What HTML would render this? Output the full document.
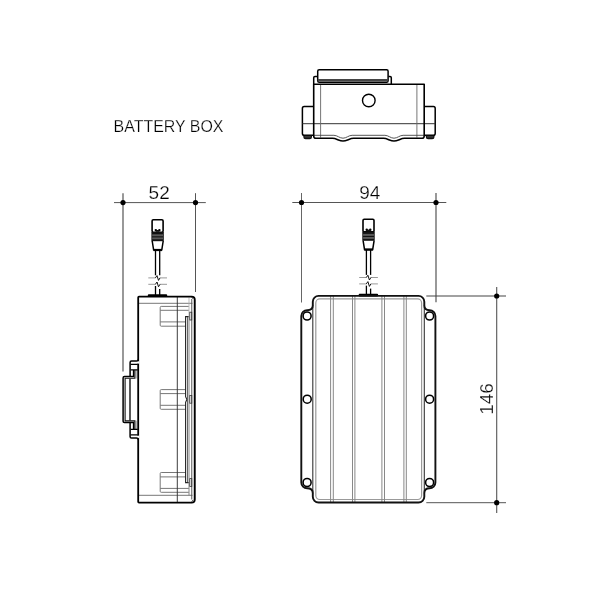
<!DOCTYPE html>
<html><head><meta charset="utf-8"><style>
html,body{margin:0;padding:0;background:#fff;width:600px;height:600px;overflow:hidden}
svg{display:block;will-change:transform}
text{font-family:"Liberation Sans",sans-serif;fill:#000;stroke:#fff;stroke-width:0.25px}
</style></head><body>
<svg width="600" height="600" viewBox="0 0 600 600">


<!-- ===== TITLE ===== -->
<text x="113.6" y="131.7" font-size="15.95">BATTERY BOX</text>

<!-- ===== TOP VIEW ===== -->
<g fill="none" stroke-linejoin="round">
  <!-- side tabs -->
  <path d="M313.6,106.6 H304.2 Q302.4,106.6 302.4,108.4 V133.4 Q302.4,135.2 304.2,135.2 H313.6" stroke="#000" stroke-width="1.5"/>
  <path d="M424.2,106.6 H433.4 Q435.2,106.6 435.2,108.4 V133.4 Q435.2,135.2 433.4,135.2 H424.2" stroke="#000" stroke-width="1.5"/>
  <!-- feet -->
  <path d="M303.3,135.6 H312 V137 Q312,139.3 309.7,139.3 H305.6 Q303.3,139.3 303.3,137 Z" fill="#111" stroke="none"/><line x1="304.5" y1="136.9" x2="310.8" y2="136.9" stroke="#666" stroke-width="0.8"/>
  <path d="M425.8,135.6 H434.5 V137 Q434.5,139.3 432.2,139.3 H428.1 Q425.8,139.3 425.8,137 Z" fill="#111" stroke="none"/><line x1="427" y1="136.9" x2="433.3" y2="136.9" stroke="#666" stroke-width="0.8"/>
  <!-- horizontal mid line -->
  <line x1="302.4" y1="123.7" x2="435.2" y2="123.7" stroke="#333" stroke-width="1"/>
  <!-- inner verticals -->
  <line x1="320.6" y1="84.2" x2="320.6" y2="137.6" stroke="#666" stroke-width="0.9"/>
  <line x1="416.9" y1="84.2" x2="416.9" y2="137.6" stroke="#666" stroke-width="0.9"/>
  <!-- inner bottom line w/ waves -->
  <path d="M313.6,135.3 H333.9 C337.2,135.3 339.7,138.2 343.0,138.2 C346.3,138.2 348.8,135.3 352.1,135.3 H384.9 C388.2,135.3 390.7,138.2 394.0,138.2 C397.3,138.2 399.8,135.3 403.1,135.3 H424.2" stroke="#444" stroke-width="0.9"/>
  <!-- body outline -->
  <path d="M313.7,84.3 V77.8 Q313.7,76.5 315,76.5 H317.5" stroke="#000" stroke-width="1.5"/>
  <path d="M388.4,76.5 H390 Q391.3,76.5 391.3,77.8 V84.3" stroke="#000" stroke-width="1.5"/>
  <path d="M313.7,84.3 H424.2 V136 Q424.2,138.3 422,138.3 H404.5 C400.7,138.3 397.8,141 394.0,141 C390.2,141 387.3,138.3 383.5,138.3 H353.5 C349.7,138.3 346.8,141 343.0,141 C339.2,141 336.3,138.3 332.5,138.3 H316 Q313.7,138.3 313.7,136 Z" stroke="#000" stroke-width="1.6"/>
  <!-- cap -->
  <rect x="317.7" y="69.8" width="70.4" height="12.4" rx="1.5" stroke="#000" stroke-width="1.5"/>
  <rect x="317.7" y="79" width="70.4" height="2.4" fill="#444" stroke="none"/>
  <!-- circle -->
  <circle cx="368.8" cy="100.5" r="6.3" stroke="#000" stroke-width="1.4"/>
</g>

<!-- ===== SIDE VIEW ===== -->
<g>
  <!-- head -->
  <rect x="152.1" y="219.7" width="11" height="12.6" rx="1.2" fill="none" stroke="#000" stroke-width="1.6"/>
  <path d="M154.6,231.3 V230.4 A1.3,1.3 0 0 1 157.2,230.4 A1.3,1.3 0 0 1 159.8,230.4 A1.3,1.3 0 0 1 162.4,230.4" fill="none" stroke="none"/>
  <circle cx="155.8" cy="230.1" r="1.2" fill="#000"/>
  <circle cx="159.4" cy="230.1" r="1.2" fill="#000"/>
  <rect x="155.8" y="230" width="3.6" height="1.8" fill="#111"/>
  <!-- ribs -->
  <rect x="151.4" y="232" width="12.4" height="9.2" fill="#111"/>
  <rect x="152.2" y="234.3" width="10.8" height="2" fill="#5a5a5a"/>
  <rect x="152.2" y="237.4" width="10.8" height="1.9" fill="#5a5a5a"/>
  <!-- taper -->
  <path d="M152.2,241 L153.6,249.8 H161.8 L163.2,241" fill="none" stroke="#000" stroke-width="1.5"/>
  <rect x="153.4" y="248.9" width="8.6" height="2.2" fill="#000"/>
  <!-- cable -->
  <line x1="155.5" y1="250" x2="155.5" y2="275.3" stroke="#000" stroke-width="1.3"/>
  <line x1="159.7" y1="250" x2="159.7" y2="275.3" stroke="#000" stroke-width="1.3"/>
  <!-- breaks -->
  <path d="M148.3,277.9 H155.6 M159.8,277.9 H167" stroke="#999" stroke-width="1" fill="none"/>
  <path d="M155.4,277.9 L157,275.6 L158.5,280.4 L160,277.9" stroke="#111" stroke-width="1" fill="none"/>
  <path d="M148.3,284.3 H155.6 M159.8,284.3 H167" stroke="#999" stroke-width="1" fill="none"/>
  <path d="M155.4,284.3 L157,282 L158.5,286.8 L160,284.3" stroke="#111" stroke-width="1" fill="none"/>
  <line x1="155.5" y1="286" x2="155.5" y2="295" stroke="#000" stroke-width="1.3"/>
  <line x1="159.7" y1="289" x2="159.7" y2="295" stroke="#000" stroke-width="1.3"/>
  <!-- plate -->
  <rect x="147.8" y="294.2" width="19.4" height="2.6" rx="1" fill="#000"/>
</g>
<g fill="none">
  <!-- dimension 52 -->
  <line x1="114" y1="202.6" x2="205.8" y2="202.6" stroke="#555" stroke-width="1"/>
  <line x1="123" y1="193.2" x2="123" y2="371.5" stroke="#444" stroke-width="1.1"/>
  <line x1="195.5" y1="193.2" x2="195.5" y2="292" stroke="#555" stroke-width="1"/>
  <circle cx="123" cy="202.6" r="2.6" fill="#000"/>
  <circle cx="195.5" cy="202.6" r="2.6" fill="#000"/>

  <!-- inner rects -->
  <g stroke="#777" stroke-width="1">
    <path d="M188.8,306.4 H161.2 Q160.2,306.4 160.2,307.4 V325.2 Q160.2,326.2 161.2,326.2 H185.8"/>
    <path d="M160.2,310.3 H188.8 M160.2,321.9 H185.8"/>
    <path d="M185.8,389.6 H161.2 Q160.2,389.6 160.2,390.6 V408.3 Q160.2,409.3 161.2,409.3 H185.8"/>
    <path d="M160.2,393.6 H185.8 M160.2,405.3 H185.8"/>
    <path d="M185.8,472.5 H161.2 Q160.2,472.5 160.2,473.5 V491.3 Q160.2,492.3 161.2,492.3 H188.8"/>
    <path d="M160.2,476.9 H185.8 M160.2,488.4 H188.8"/>
  </g>
  <!-- horizontal thin lines -->
  <line x1="138.2" y1="303.3" x2="192.6" y2="303.3" stroke="#777" stroke-width="1"/>
  <line x1="138.2" y1="495.3" x2="192.6" y2="495.3" stroke="#777" stroke-width="1"/>
  <!-- vertical line -->
  <line x1="177.3" y1="296.4" x2="177.3" y2="502.6" stroke="#333" stroke-width="0.95"/>
  <!-- rail -->
  <path d="M188.8,316.6 H185.6 V396.6 L186.9,399.5 L185.6,402.4 V482.6 H188.8" stroke="#222" stroke-width="1.1"/>
  <line x1="187.5" y1="317" x2="187.5" y2="482.2" stroke="#555" stroke-width="0.9"/>
  <line x1="189" y1="297.5" x2="189" y2="316.6" stroke="#aaa" stroke-width="0.8"/>
  <line x1="189" y1="316.6" x2="189" y2="495.3" stroke="#777" stroke-width="0.9"/>
  <line x1="191.7" y1="299" x2="191.7" y2="499.5" stroke="#555" stroke-width="0.9"/>
  <line x1="193.1" y1="299.5" x2="193.1" y2="499.5" stroke="#aaa" stroke-width="0.7"/>
  <path d="M191.6,297.2 L193.2,299 M191.6,501.6 L193.2,499.8" stroke="#333" stroke-width="0.8"/>
  <g stroke="#333" stroke-width="0.8">
    <rect x="189.8" y="312.2" width="2" height="7.8"/>
    <rect x="189.8" y="395.4" width="2" height="7.8"/>
    <rect x="189.8" y="478.6" width="2" height="7.8"/>
  </g>
  <!-- outer box -->
  <path d="M138.2,297.4 Q138.2,296.6 139,296.6 H191.6 Q194.8,296.6 194.8,299.8 V499.4 Q194.8,502.6 191.6,502.6 H139 Q138.2,502.6 138.2,501.8 Z" stroke="#000" stroke-width="1.8"/>
  <!-- clip -->
  <path d="M136.3,370 V378.5 M136.3,420.7 V429.2" stroke="#999" stroke-width="0.8"/>
  <rect x="136.9" y="361.2" width="2.3" height="2.4" fill="#fff" stroke="none"/><rect x="136.9" y="435.7" width="2.3" height="2.4" fill="#fff" stroke="none"/>
  <path d="M138.2,359.4 Q138.2,361.1 136.5,361.1 H131.5 Q130.1,361.1 130.1,362.5 V376.6 M133.6,370 V376.6 H124.5 Q123.1,376.6 123.1,378 V421.2 Q123.1,422.6 124.5,422.6 H133.6 V429.2 M130.1,422.6 V436.7 Q130.1,438.1 131.5,438.1 H136.5 Q138.2,438.1 138.2,439.8" stroke="#000" stroke-width="1.5"/>
  <path d="M130.6,364.4 H137.8 M130.6,369.9 H137.8 M130.6,429.3 H137.8 M130.6,434.8 H137.8" stroke="#000" stroke-width="1.2"/>
  <path d="M134.9,370 V378.3 H125.1 V420.9 H134.9 V429.2" stroke="#111" stroke-width="1.1"/>
  <line x1="130" y1="378.8" x2="130" y2="420.4" stroke="#111" stroke-width="1.4"/>
</g>

<!-- ===== FRONT VIEW ===== -->
<g transform="translate(210.9,-0.4)">
  <!-- head -->
  <rect x="152.1" y="219.7" width="11" height="12.6" rx="1.2" fill="none" stroke="#000" stroke-width="1.6"/>
  <path d="M154.6,231.3 V230.4 A1.3,1.3 0 0 1 157.2,230.4 A1.3,1.3 0 0 1 159.8,230.4 A1.3,1.3 0 0 1 162.4,230.4" fill="none" stroke="none"/>
  <circle cx="155.8" cy="230.1" r="1.2" fill="#000"/>
  <circle cx="159.4" cy="230.1" r="1.2" fill="#000"/>
  <rect x="155.8" y="230" width="3.6" height="1.8" fill="#111"/>
  <!-- ribs -->
  <rect x="151.4" y="232" width="12.4" height="9.2" fill="#111"/>
  <rect x="152.2" y="234.3" width="10.8" height="2" fill="#5a5a5a"/>
  <rect x="152.2" y="237.4" width="10.8" height="1.9" fill="#5a5a5a"/>
  <!-- taper -->
  <path d="M152.2,241 L153.6,249.8 H161.8 L163.2,241" fill="none" stroke="#000" stroke-width="1.5"/>
  <rect x="153.4" y="248.9" width="8.6" height="2.2" fill="#000"/>
  <!-- cable -->
  <line x1="155.5" y1="250" x2="155.5" y2="275.3" stroke="#000" stroke-width="1.3"/>
  <line x1="159.7" y1="250" x2="159.7" y2="275.3" stroke="#000" stroke-width="1.3"/>
  <!-- breaks -->
  <path d="M148.3,277.9 H155.6 M159.8,277.9 H167" stroke="#999" stroke-width="1" fill="none"/>
  <path d="M155.4,277.9 L157,275.6 L158.5,280.4 L160,277.9" stroke="#111" stroke-width="1" fill="none"/>
  <path d="M148.3,284.3 H155.6 M159.8,284.3 H167" stroke="#999" stroke-width="1" fill="none"/>
  <path d="M155.4,284.3 L157,282 L158.5,286.8 L160,284.3" stroke="#111" stroke-width="1" fill="none"/>
  <line x1="155.5" y1="286" x2="155.5" y2="295" stroke="#000" stroke-width="1.3"/>
  <line x1="159.7" y1="289" x2="159.7" y2="295" stroke="#000" stroke-width="1.3"/>
  <!-- plate -->
  <rect x="147.8" y="294.2" width="19.4" height="2.6" rx="1" fill="#000"/>
</g>
<g fill="none">
  <!-- dimension 94 -->
  <line x1="292.3" y1="202.5" x2="446.3" y2="202.5" stroke="#555" stroke-width="1"/>
  <line x1="301.5" y1="193" x2="301.5" y2="302.5" stroke="#666" stroke-width="1"/>
  <line x1="436" y1="193" x2="436" y2="302.3" stroke="#444" stroke-width="1.1"/>
  <circle cx="301.5" cy="202.5" r="2.6" fill="#000"/>
  <circle cx="436" cy="202.5" r="2.6" fill="#000"/>
  <!-- dimension 146 -->
  <line x1="496.7" y1="287" x2="496.7" y2="513" stroke="#555" stroke-width="1.1"/>
  <line x1="426.3" y1="296" x2="506" y2="296" stroke="#444" stroke-width="1.1"/>
  <line x1="426.3" y1="502.7" x2="506" y2="502.7" stroke="#555" stroke-width="1"/>
  <circle cx="496.7" cy="296" r="2.6" fill="#000"/>
  <circle cx="496.7" cy="502.7" r="2.6" fill="#000"/>

  <!-- inner outline -->
  <rect x="315.8" y="298.9" width="105.8" height="200.6" rx="4" stroke="#999" stroke-width="1.2"/>
  <!-- ribs -->
  <g stroke="#888" stroke-width="1">
    <path d="M330.6,296 V502.4 M333.3,296 V502.4 M352.5,296 V502.4 M354.9,296 V502.4 M381.9,296 V502.4 M384.5,296 V502.4 M403.9,296 V502.4 M406.3,296 V502.4"/>
  </g>
  <!-- body edges -->
  <line x1="312.8" y1="305" x2="312.8" y2="493.5" stroke="#333" stroke-width="1.1"/>
  <line x1="424.3" y1="305" x2="424.3" y2="493.5" stroke="#333" stroke-width="1.1"/>
  <!-- outer outline -->
  <path d="M318.6,295.9 H418.5 A5.8,5.8 0 0 1 424.3,301.7 V305.2 C424.3,308.6 425.8,310.2 429.6,310.2 A5.8,5.8 0 0 1 435.4,316 V482.5 A5.8,5.8 0 0 1 429.6,488.3 C425.8,488.3 424.3,489.9 424.3,493.3 V496.7 A5.8,5.8 0 0 1 418.5,502.5 H318.6 A5.8,5.8 0 0 1 312.8,496.7 V493.3 C312.8,489.9 311.3,488.3 307.1,488.3 A5.8,5.8 0 0 1 301.3,482.5 V316 A5.8,5.8 0 0 1 307.1,310.2 C311.3,310.2 312.8,308.6 312.8,305.2 V301.7 A5.8,5.8 0 0 1 318.6,295.9 Z" stroke="#111" stroke-width="1.9"/>
  <!-- holes -->
  <g stroke="#000" stroke-width="1.55" fill="#fff">
    <circle cx="307.1" cy="316" r="4"/>
    <circle cx="307.2" cy="399.2" r="4"/>
    <circle cx="307.1" cy="482.5" r="4"/>
    <circle cx="429.6" cy="316" r="4"/>
    <circle cx="429.6" cy="399.2" r="4"/>
    <circle cx="429.6" cy="482.5" r="4"/>
  </g>
</g>

<!-- dimension texts -->
<text x="148.6" y="198.5" font-size="19">52</text>
<text x="359.2" y="198.5" font-size="19">94</text>
<text transform="translate(492.5,414.8) rotate(-90)" font-size="19">146</text>
</svg>
</body></html>
